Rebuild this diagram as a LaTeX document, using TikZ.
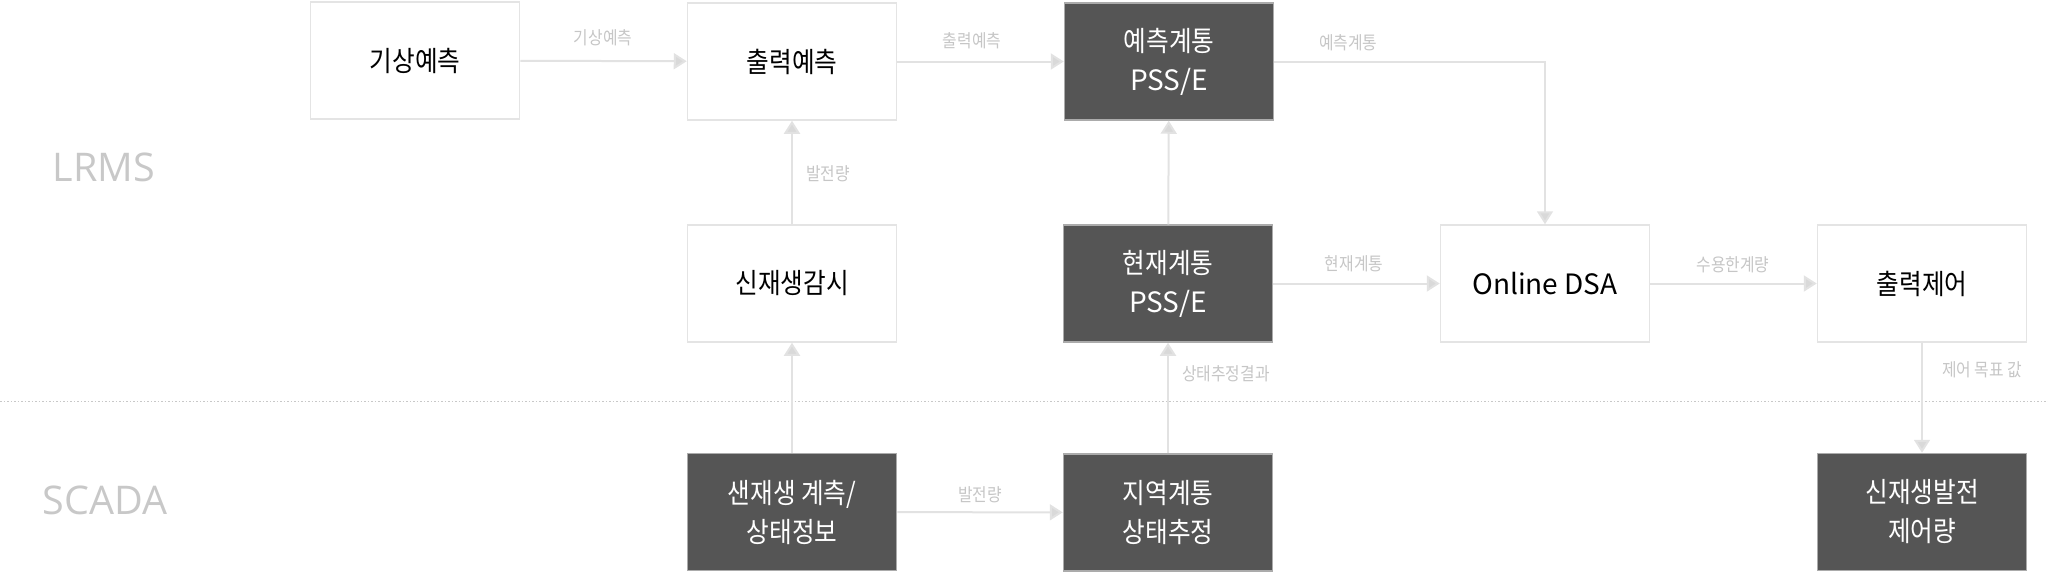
\documentclass[tikz,border=0pt]{standalone}
\usepackage{fontspec}
\setmainfont{Noto Sans CJK KR}
\newfontfamily\krfont[FakeStretch=0.88]{Noto Sans CJK KR}
\newfontfamily\latin{Noto Sans CJK KR}
\newfontfamily\latfont{Open Sans}
\usetikzlibrary{arrows.meta}
\definecolor{boxline}{HTML}{E4E4E4}
\definecolor{darkfill}{HTML}{555555}
\definecolor{linkc}{HTML}{E2E2E2}
\definecolor{headc}{HTML}{D9D9D9}
\definecolor{labelc}{HTML}{C6C6C6}
\definecolor{tierc}{HTML}{C8C8C8}
\begin{document}
\begin{tikzpicture}[x=1pt,y=-1pt,
  lightbox/.style={draw=boxline, line width=1.5pt, fill=white, minimum width=209pt, minimum height=117pt, inner sep=0pt, align=center, font=\krfont\fontsize{28}{39}\selectfont, text=black},
  darkbox/.style={lightbox, fill=darkfill, draw=boxline!60!darkfill, text=white},
  link/.style={draw=linkc, line width=2pt, -{Triangle[length=13pt,width=16pt,fill=headc]}},
  lbl/.style={text=labelc, font=\krfont\fontsize{18}{20}\selectfont, inner sep=0pt},
  tier/.style={text=tierc, font=\latfont\fontsize{39.5}{48}\selectfont, inner sep=0pt}]
\useasboundingbox (0,0) rectangle (2048,574);

% tier labels and separator
\node[tier] (lrms) at (104,167) {LRMS};
\node[tier] (scada) at (105,500) {SCADA};
\coordinate (sepl) at (0,401);
\coordinate (sepr) at (2048,401);
\draw[tierc, line width=1pt, dash pattern=on 1.5pt off 2pt] (sepl) -- (sepr);

% boxes
\node[lightbox] (wf) at (415,60.5) {기상예측};
\node[lightbox] (pf) at (792,61.5) {출력예측};
\node[darkbox] (fs) at (1169,61.5) {예측계통\\{\latin PSS/E}};
\node[lightbox] (mon) at (792,283.5) {신재생감시};
\node[darkbox] (cs) at (1168,283.5) {현재계통\\{\latin PSS/E}};
\node[lightbox] (dsa) at (1545,283.5) {\latin Online DSA};
\node[lightbox] (oc) at (1922,283.5) {출력제어};
\node[darkbox] (meas) at (792,512) {샌재생 계측/\\상태정보};
\node[darkbox] (se) at (1168,512.5) {지역계통\\상태추정};
\node[darkbox] (rc) at (1922,512) {신재생발전\\제어량};

% connectors
\draw[link] (wf) -- (pf);
\draw[link] (pf) -- (fs);
\draw[link] (fs.east) -| (dsa.north);
\draw[link] (mon) -- (pf);
\draw[link] (cs) -- (fs);
\draw[link] (cs) -- (dsa);
\draw[link] (dsa) -- (oc);
\draw[link] (oc) -- (rc);
\draw[link] (meas) -- (mon);
\draw[link] (meas) -- (se);
\draw[link] (se) -- (cs);

% connector labels
\node[lbl] (l1) at (603,38) {기상예측};
\node[lbl] (l2) at (972,41) {출력예측};
\node[lbl, anchor=west] (l3) at (1319,43) {예측계통};
\node[lbl, anchor=west] (l4) at (806,174) {발전량};
\node[lbl] (l5) at (1354,264) {현재계통};
\node[lbl] (l6) at (1733,265) {수용한계량};
\node[lbl, anchor=west] (l7) at (1942,370) {제어 목표 값};
\node[lbl] (l8) at (980,495) {발전량};
\node[lbl, anchor=west] (l9) at (1182,374) {상태추정결과};
\end{tikzpicture}
\end{document}
